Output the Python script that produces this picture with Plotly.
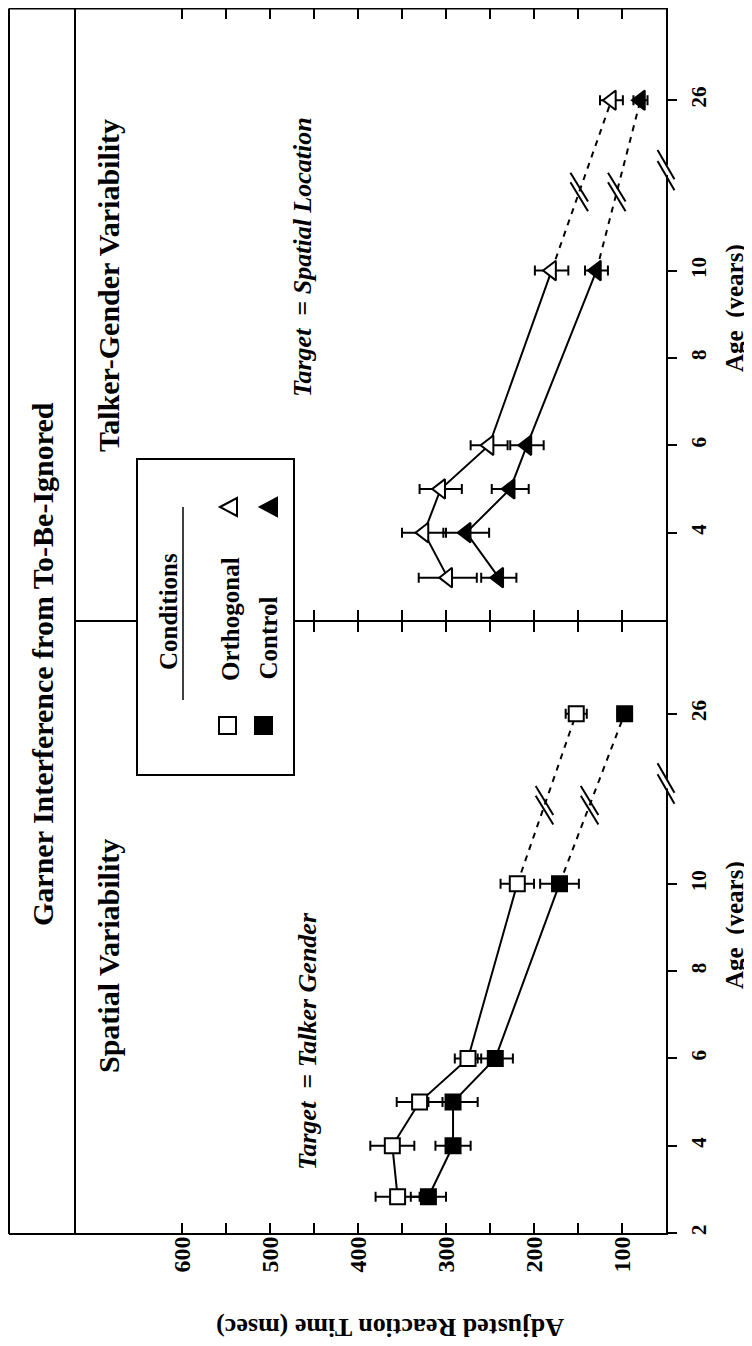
import plotly.graph_objects as go

# page is rendered with an 8px body margin; figure sized to fit the 752x1346 window
OFF = 8
W, H = 752 - OFF, 1346 - OFF
FONT = "Liberation Serif"

# ---------------- data ----------------
RT_TICKS = [100, 150, 200, 250, 300, 350, 400, 450, 500, 550, 600]
RT_LABELS = ["100", "", "200", "", "300", "", "400", "", "500", "", "600"]
AGE_TICKS = [2, 4, 6, 8, 10, 26]
AGE_LABELS = ["2", "4", "6", "8", "10", "26"]

# Spatial Variability panel (Target = Talker Gender), squares
SPATIAL_AGES = [2.83, 4, 5, 6, 10, 26]
SPATIAL_ORTHO = [355, 361, 330, 275, 219, 152]
SPATIAL_ORTHO_ERR = [25, 25, 26, 15, 19, 12]
SPATIAL_CTRL = [320, 292, 292, 244, 171, 97]
SPATIAL_CTRL_ERR = [20, 20, 28, 20, 22, 8]

# Talker-Gender Variability panel (Target = Spatial Location), triangles
TALKER_AGES = [2.97, 4, 5, 6, 10, 26]
TALKER_ORTHO = [298, 325, 306, 251, 180, 112]
TALKER_ORTHO_ERR = [33, 25, 24, 21, 19, 13]
TALKER_CTRL = [240, 277, 227, 208, 129, 79]
TALKER_CTRL_ERR = [20, 26, 21, 19, 13, 8]

ADULT_POS = 13.9   # axis position used for the 26-year group (broken axis)
AXIS_BREAK = 12.3
LINE_BREAK = 11.8


def pos(a):
    return a if a <= 10 else ADULT_POS


def px(x):
    return (x - OFF) / W


def py(y):
    return 1 - (y - OFF) / H


XD = [px(138), px(666)]
TOP = [py(620), py(8.5)]
BOT = [py(1233), py(622)]

fig = go.Figure()


def add_series(xa, ya, ages, vals, errs, symbol, fill, size):
    ys = [pos(a) for a in ages]
    fig.add_trace(go.Scatter(x=vals[:5], y=ys[:5], mode="lines", xaxis=xa, yaxis=ya,
                             line=dict(color="black", width=2), showlegend=False, hoverinfo="skip"))
    fig.add_trace(go.Scatter(x=vals[4:], y=ys[4:], mode="lines", xaxis=xa, yaxis=ya,
                             line=dict(color="black", width=2, dash="6px,6px"),
                             showlegend=False, hoverinfo="skip"))
    fig.add_trace(go.Scatter(x=vals, y=ys, mode="markers", xaxis=xa, yaxis=ya,
                             marker=dict(symbol=symbol, size=size, color=fill,
                                         line=dict(color="black", width=2)),
                             error_x=dict(type="data", array=errs, visible=True, color="black",
                                          thickness=2, width=5),
                             showlegend=False))


add_series("x", "y", SPATIAL_AGES, SPATIAL_ORTHO, SPATIAL_ORTHO_ERR, "square", "white", 15)
add_series("x", "y", SPATIAL_AGES, SPATIAL_CTRL, SPATIAL_CTRL_ERR, "square", "black", 15)
add_series("x2", "y3", TALKER_AGES, TALKER_ORTHO, TALKER_ORTHO_ERR, "triangle-left", "white", 17)
add_series("x2", "y3", TALKER_AGES, TALKER_CTRL, TALKER_CTRL_ERR, "triangle-left", "black", 17)

bold = lambda s: f"<b>{s}</b>" if s else ""

xcommon = dict(domain=XD, range=[650, 50], tickvals=RT_TICKS, ticks="inside", ticklen=10,
               tickwidth=2, tickcolor="black", showline=True, linewidth=2, linecolor="black",
               mirror="ticks", showgrid=False, zeroline=False, tickangle=-90,
               tickfont=dict(family=FONT, size=24, color="black"), automargin=False)
ycommon_right = dict(range=[2, 16], side="right", ticks="outside", ticklen=9, tickwidth=2,
                     tickcolor="black", showline=True, linewidth=2, linecolor="black",
                     showgrid=False, zeroline=False, tickangle=-90,
                     tickfont=dict(family=FONT, size=21, color="black"), automargin=False,
                     ticklabelstandoff=4)
ycommon_left = dict(range=[2, 16], side="left", ticks="inside", ticklen=8, tickwidth=2,
                    tickcolor="black", showline=True, linewidth=2, linecolor="black",
                    showgrid=False, zeroline=False, showticklabels=False, automargin=False,
                    tickvals=[2, 4, 6, 8, 10, 12, ADULT_POS])

fig.update_layout(
    width=W, height=H, margin=dict(l=0, r=0, t=0, b=0),
    paper_bgcolor="white", plot_bgcolor="white", showlegend=False,
    xaxis=dict(anchor="y", ticktext=[bold(s) for s in RT_LABELS], ticklabelstandoff=-8, **xcommon),
    xaxis2=dict(anchor="y3", showticklabels=False, **xcommon),
    yaxis=dict(domain=BOT, anchor="x", tickvals=[pos(a) for a in AGE_TICKS],
               ticktext=[bold(s) for s in AGE_LABELS], **ycommon_right),
    yaxis2=dict(overlaying="y", anchor="x", **ycommon_left),
    yaxis3=dict(domain=TOP, anchor="x2", tickvals=[pos(a) for a in AGE_TICKS[1:]],
                ticktext=[bold(s) for s in AGE_LABELS[1:]], **ycommon_right),
    yaxis4=dict(overlaying="y3", anchor="x2", **ycommon_left),
)

shapes = []
line = dict(color="black", width=2)


def seg(x0, y0, x1, y1, w=2):
    shapes.append(dict(type="line", xref="paper", yref="paper", x0=px(x0), y0=py(y0),
                       x1=px(x1), y1=py(y1), line=dict(color="black", width=w)))


# outer frame and title bands
seg(9, 8.5, 666, 8.5)
seg(9, 1234, 666, 1234)
seg(9, 8.5, 9, 1234)
seg(75, 8.5, 75, 1234)
seg(75, 621, 138, 621)

# axis breaks on the age axes
for xr, yr in [("x domain", "y domain"), ("x2 domain", "y3 domain")]:
    yc = (AXIS_BREAK - 2) / 14
    shapes.append(dict(type="rect", xref=xr, yref=yr, x0=0.99, x1=1.02, y0=yc - 0.008,
                       y1=yc + 0.008, fillcolor="white", line=dict(width=0)))
    for d in (-0.009, 0.009):
        shapes.append(dict(type="line", xref=xr, yref=yr, x0=1 - 0.016, y0=yc + d + 0.024,
                           x1=1 + 0.016, y1=yc + d - 0.024, line=line))

# breaks on the dashed data lines
for xr, yr, vals in [("x", "y", SPATIAL_ORTHO), ("x", "y", SPATIAL_CTRL),
                     ("x2", "y3", TALKER_ORTHO), ("x2", "y3", TALKER_CTRL)]:
    f = (LINE_BREAK - 10) / (ADULT_POS - 10)
    rt = vals[4] + (vals[5] - vals[4]) * f
    for d in (-0.11, 0.11):
        a = LINE_BREAK + d
        shapes.append(dict(type="line", xref=xr, yref=yr, x0=rt + 10, y0=a + 0.33,
                           x1=rt - 10, y1=a - 0.33, line=line))

# legend box
shapes.append(dict(type="rect", xref="paper", yref="paper", x0=px(137), x1=px(294),
                   y0=py(775), y1=py(459), fillcolor="white", line=line))
seg(183, 507, 183, 700, 1.5)
# legend symbols
shapes.append(dict(type="rect", xref="paper", yref="paper", x0=px(219), x1=px(236),
                   y0=py(734), y1=py(717), fillcolor="white", line=line))
shapes.append(dict(type="rect", xref="paper", yref="paper", x0=px(255), x1=px(272),
                   y0=py(734), y1=py(717), fillcolor="black", line=line))


def tri(cx, cy, fill):
    p = (f"M {px(cx - 9)},{py(cy)} L {px(cx + 8)},{py(cy - 9)} "
         f"L {px(cx + 8)},{py(cy + 9)} Z")
    shapes.append(dict(type="path", xref="paper", yref="paper", path=p,
                       fillcolor=fill, line=line))


tri(229, 507, "white")
tri(269, 507, "black")

fig.update_layout(shapes=shapes)

ann = []


def text(t, x, y, size, angle=-90, xa="center", ya="middle"):
    ann.append(dict(text=t, x=px(x), y=py(y), xref="paper", yref="paper", showarrow=False,
                    textangle=angle, xanchor=xa, yanchor=ya,
                    font=dict(family=FONT, size=size, color="black")))


text("<b>Garner Interference from To-Be-Ignored</b>", 43, 664, 30)
text("<b>Talker-Gender Variability</b>", 108, 286, 30)
text("<b>Spatial Variability</b>", 108, 956, 30)
text("<b><i>Target</i>  = <i>Spatial Location</i></b>", 303, 257, 26)
text("<b><i>Target</i>  = <i>Talker Gender</i></b>", 307, 1041, 26)
text("<b>Adjusted Reaction Time (msec)</b>", 390, 1328, 26, angle=180)
text("<b>Age  (years)</b>", 735, 308, 25)
text("<b>Age  (years)</b>", 735, 925, 25)
text("<b>Conditions</b>", 168, 612, 25)
text("<b>Orthogonal</b>", 230, 683, 25, ya="bottom")
text("<b>Control</b>", 268, 682, 25, ya="bottom")

fig.update_layout(annotations=ann)

fig.write_html("out.html")
